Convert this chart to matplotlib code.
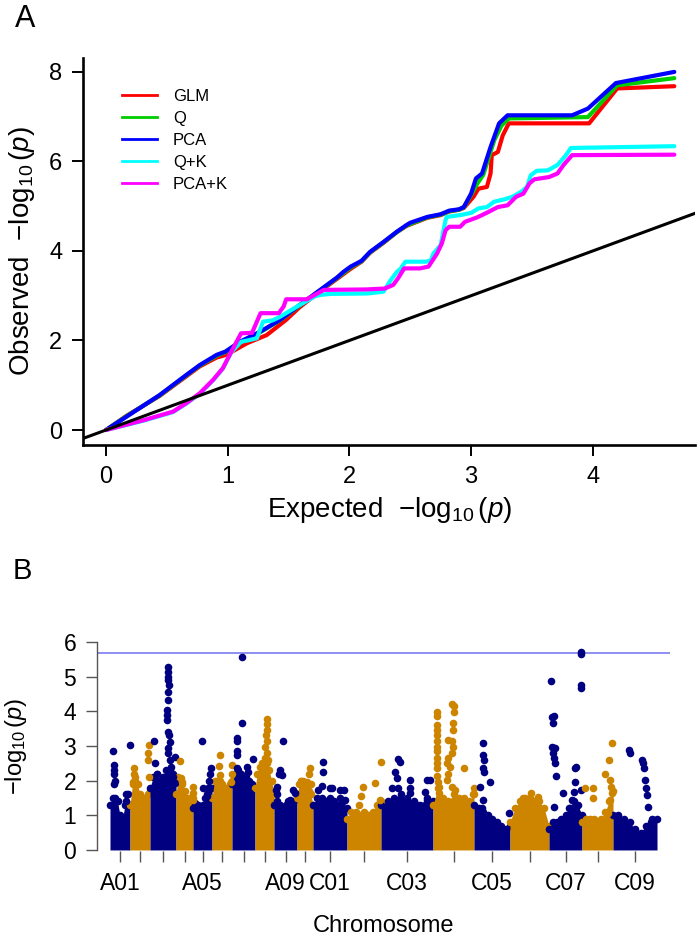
import matplotlib
matplotlib.use('Agg')
import matplotlib.pyplot as plt
from matplotlib.lines import Line2D
import numpy as np

plt.rcParams['font.family'] = ['Liberation Sans', 'DejaVu Sans']
plt.rcParams['mathtext.fontset'] = 'custom'
plt.rcParams['mathtext.rm'] = 'Liberation Sans'
plt.rcParams['mathtext.it'] = 'Liberation Sans:italic'
plt.rcParams['mathtext.default'] = 'regular'

# ---------------- Panel A: QQ plot data ----------------
qq_labels = ['GLM', 'Q', 'PCA', 'Q+K', 'PCA+K']
qq_colors = ['#FF0000', '#00CD00', '#0000FF', '#00FFFF', '#FF00FF']

glm_x = [0, 0.17, 0.44, 0.66, 0.77, 0.91, 0.99, 1.16, 1.32, 1.48, 1.59, 1.76, 1.90, 2.01, 2.10, 2.17,
         2.28, 2.39, 2.47, 2.64, 2.75, 2.82, 2.90, 2.94, 3.02, 3.06, 3.13, 3.16, 3.17, 3.22, 3.26, 3.31,
         3.97, 4.20, 4.67]
glm_y = [0, 0.32, 0.76, 1.20, 1.42, 1.62, 1.68, 1.94, 2.12, 2.46, 2.74, 3.10, 3.38, 3.60, 3.76, 3.96,
         4.18, 4.42, 4.56, 4.74, 4.80, 4.88, 4.92, 4.96, 5.21, 5.39, 5.43, 5.73, 6.14, 6.21, 6.58, 6.85,
         6.85, 7.63, 7.68]

q_x = [0, 0.17, 0.44, 0.66, 0.77, 0.91, 0.98, 1.10, 1.27, 1.43, 1.59, 1.76, 1.90, 2.01, 2.10, 2.17,
       2.28, 2.39, 2.47, 2.64, 2.75, 2.82, 2.90, 2.94, 3.00, 3.05, 3.10, 3.19, 3.25, 3.31, 3.96, 4.20, 4.67]
q_y = [0, 0.31, 0.77, 1.22, 1.44, 1.66, 1.74, 1.96, 2.19, 2.45, 2.78, 3.12, 3.40, 3.63, 3.77, 3.97,
       4.19, 4.42, 4.57, 4.75, 4.81, 4.89, 4.92, 4.97, 5.25, 5.50, 5.70, 6.47, 6.80, 6.96, 6.99, 7.70, 7.86]

pca_x = [0, 0.17, 0.44, 0.66, 0.77, 0.91, 0.98, 1.10, 1.27, 1.43, 1.59, 1.76, 1.90, 1.95, 2.01, 2.10,
         2.17, 2.28, 2.39, 2.47, 2.50, 2.64, 2.75, 2.82, 2.90, 2.94, 3.00, 3.04, 3.09, 3.16, 3.23, 3.30,
         3.83, 3.96, 4.19, 4.67]
pca_y = [0, 0.30, 0.78, 1.23, 1.45, 1.68, 1.75, 1.97, 2.20, 2.46, 2.79, 3.13, 3.41, 3.53, 3.65, 3.78,
         3.98, 4.20, 4.43, 4.58, 4.63, 4.76, 4.82, 4.90, 4.93, 4.98, 5.28, 5.62, 5.73, 6.32, 6.85, 7.03,
         7.03, 7.18, 7.75, 8.00]

qk_x = [0, 0.31, 0.55, 0.66, 0.77, 0.88, 0.96, 1.03, 1.11, 1.18, 1.24, 1.29, 1.37, 1.43, 1.59, 1.72,
        1.77, 1.84, 2.15, 2.28, 2.34, 2.39, 2.42, 2.46, 2.63, 2.67, 2.69, 2.75, 2.79, 2.80, 2.91, 3.00,
        3.06, 3.13, 3.19, 3.27, 3.34, 3.41, 3.46, 3.49, 3.54, 3.63, 3.71, 3.78, 3.82, 4.67]
qk_y = [0, 0.21, 0.40, 0.59, 0.81, 1.11, 1.37, 1.74, 1.97, 2.01, 2.05, 2.42, 2.45, 2.53, 2.79, 2.99,
        3.02, 3.04, 3.05, 3.09, 3.35, 3.53, 3.60, 3.76, 3.76, 3.79, 3.94, 4.13, 4.69, 4.76, 4.80, 4.85,
        4.95, 4.98, 5.10, 5.15, 5.21, 5.32, 5.43, 5.69, 5.79, 5.80, 5.92, 6.14, 6.30, 6.34]

pcak_x = [0, 0.31, 0.55, 0.66, 0.77, 0.88, 0.96, 1.03, 1.11, 1.20, 1.27, 1.42, 1.46, 1.48, 1.65, 1.79,
          2.14, 2.29, 2.36, 2.40, 2.45, 2.58, 2.65, 2.72, 2.76, 2.79, 2.82, 2.91, 2.95, 3.05, 3.12, 3.22,
          3.30, 3.37, 3.43, 3.48, 3.52, 3.64, 3.71, 3.76, 3.83, 4.67]
pcak_y = [0, 0.22, 0.41, 0.60, 0.82, 1.12, 1.38, 1.75, 2.16, 2.17, 2.61, 2.61, 2.76, 2.92, 2.92, 3.13,
          3.14, 3.16, 3.24, 3.39, 3.61, 3.61, 3.65, 3.94, 4.17, 4.46, 4.54, 4.54, 4.65, 4.75, 4.84, 4.98,
          5.02, 5.21, 5.28, 5.51, 5.60, 5.65, 5.73, 5.92, 6.14, 6.15]

qq_ticks_x = [0, 1, 2, 3, 4]
qq_ticks_y = [0, 2, 4, 6, 8]

# ---------------- Panel B: Manhattan plot data ----------------
chrom_names = ['A01', 'A02', 'A03', 'A04', 'A05', 'A06', 'A07', 'A08', 'A09', 'A10',
               'C01', 'C02', 'C03', 'C04', 'C05', 'C06', 'C07', 'C08', 'C09']
chrom_lengths = [20, 20, 26, 17, 19, 20, 23, 19, 23, 16, 34, 34, 52, 41, 36, 39, 33, 31, 44]
chrom_tick_labels = ['A01', '', '', '', 'A05', '', '', '', 'A09', '',
                     'C01', '', 'C03', '', 'C05', '', 'C07', '', 'C09']
threshold = 5.69
man_ticks_y = [0, 1, 2, 3, 4, 5, 6]

# upper edge of the dense cloud of markers (evenly spaced along each chromosome)
cloud_top = {
    'A01': [1.3, 1.5, 1.5, 1.4, 1.0, 0.9, 1.3, 1.6, 1.3],
    'A02': [1.3, 1.9, 2.0, 1.9, 1.6, 1.5, 1.5, 1.6, 1.7],
    'A03': [1.8, 2.1, 2.2, 2.0, 2.1, 2.3, 2.3, 2.2, 2.0],
    'A04': [1.6, 2.1, 2.0, 1.9, 1.7, 1.5, 1.5, 1.4, 1.5],
    'A05': [1.2, 1.35, 1.3, 1.2, 1.3, 1.5, 1.6, 1.8, 1.8],
    'A06': [1.5, 2.0, 2.0, 2.0, 1.9, 1.8, 1.8, 1.9, 2.0],
    'A07': [1.9, 2.2, 2.3, 2.2, 2.1, 2.1, 2.0, 1.9, 1.8],
    'A08': [1.8, 2.2, 2.4, 2.5, 2.5, 2.5, 2.3, 2.0, 1.6],
    'A09': [1.3, 1.4, 1.3, 1.2, 1.3, 1.4, 1.3, 1.4, 1.6],
    'A10': [1.5, 1.9, 2.0, 2.0, 1.9, 1.8, 1.7, 1.6, 1.3],
    'C01': [1.3, 1.5, 1.5, 1.4, 1.5, 1.4, 1.3, 1.4, 1.2],
    'C02': [0.9, 1.1, 1.1, 1.0, 1.1, 1.0, 1.1, 1.3, 1.4],
    'C03': [1.3, 1.4, 1.5, 1.6, 1.5, 1.4, 1.3, 1.5, 1.4],
    'C04': [1.3, 1.8, 1.5, 1.4, 1.6, 1.5, 1.5, 1.4, 1.6],
    'C05': [1.3, 1.2, 1.1, 1.0, 0.9, 0.8, 0.7, 0.6, 0.7],
    'C06': [0.8, 1.2, 1.4, 1.5, 1.5, 1.4, 1.4, 1.2, 0.7],
    'C07': [0.6, 0.8, 0.8, 0.9, 1.0, 1.2, 1.4, 1.3, 1.0],
    'C08': [0.8, 0.9, 0.9, 0.9, 0.8, 0.9, 1.1, 1.4, 1.7],
    'C09': [1.0, 0.9, 0.9, 0.8, 0.6, 0.5, 0.7, 0.9, 0.9],
}

# individual markers standing above the cloud: (position within chromosome, -log10 p)
top_snps = {
    'A01': [(3, 2.84), (4, 2.45), (4, 2.3), (4, 2.2), (4.5, 2.0), (4, 1.9), (16, 1.6), (15.5, 1.4), (19.5, 3.03)],
    'A02': [(3.5, 2.2), (4, 2.36), (4.5, 2.1), (2.5, 1.95), (18, 2.79), (19, 3.03), (18, 2.6), (19, 2.1), (10, 1.55)],
    'A03': [(3.5, 3.13), (4.5, 2.5), (6.5, 2.2), (18.3, 5.27), (18.3, 5.14), (17.7, 4.98), (18.3, 4.9),
            (19.3, 4.76), (18.3, 4.57), (18.3, 4.33), (16.7, 4.04), (16.7, 3.89), (17.3, 3.75), (18.3, 3.41),
            (19.3, 3.32), (20, 3.12), (18.3, 2.93), (18.3, 2.79), (20, 2.6), (21, 2.4), (21.7, 2.2),
            (21.7, 1.97), (25, 2.69), (23.3, 2.1), (25, 1.94)],
    'A04': [(4, 2.57), (5, 2.07), (5.5, 1.97), (16.5, 1.83), (16.5, 1.63), (16.5, 1.44)],
    'A05': [(8.7, 3.13), (9.7, 1.78), (17.8, 2.37), (17, 2.2), (16.3, 2.0), (15.3, 1.8), (14, 1.55)],
    'A06': [(8, 2.74), (7.3, 2.42), (8, 2.16), (6.3, 1.97), (19.5, 2.45), (19.5, 2.2), (19, 1.95)],
    'A07': [(10.3, 5.56), (10.3, 3.65), (4.7, 3.22), (5.3, 3.13), (5.3, 2.84), (5.3, 2.74), (4.5, 2.35),
            (8, 2.2), (14.7, 2.4), (16.3, 2.26), (21.3, 2.62), (13, 1.97), (18, 1.63), (7, 2.1)],
    'A08': [(11.7, 3.77), (11.7, 3.63), (11.7, 3.46), (11, 3.32), (11.7, 3.13), (10, 2.98), (11.7, 2.79),
            (10, 2.64), (8.3, 2.5), (6.7, 2.4), (5, 2.2), (12.5, 2.6)],
    'A09': [(9.3, 3.13), (6, 2.3), (4.7, 2.2), (7.7, 2.16), (3.3, 1.83), (1.7, 1.73), (2.5, 1.6), (16, 1.44),
            (19.3, 1.73), (21, 1.65)],
    'A10': [(13, 2.36), (11.7, 2.2), (4, 2.0), (10, 1.95), (14, 1.9)],
    'C01': [(10.3, 2.53), (10.3, 2.26), (5, 1.73), (9, 1.85), (18.7, 1.78), (27, 1.73), (27, 1.5),
            (30.7, 1.73), (31.5, 1.44), (17, 1.78)],
    'C02': [(16.3, 1.83), (14, 1.55), (28, 1.92), (33.5, 2.55), (33, 1.44), (22, 1.0), (12, 1.3)],
    'C03': [(17.3, 2.62), (18.7, 2.55), (14, 2.26), (15.7, 2.07), (10.7, 1.78), (17.3, 1.78), (29, 2.02),
            (29, 1.78), (29, 1.63), (39, 1.25), (45.7, 2.02), (49, 2.02), (44, 1.68), (45.7, 1.44), (36, 1.3)],
    'C04': [(3.7, 3.99), (4.0, 3.85), (3.7, 3.6), (3.7, 3.45), (4.0, 3.32), (3.7, 3.13), (4.0, 2.98),
            (3.7, 2.84), (3.7, 2.65), (3.7, 2.5), (4.0, 2.36), (3.7, 2.12), (5.3, 1.97), (6.0, 1.83),
            (6.0, 1.63), (7.0, 1.44),
            (18.7, 4.21), (21, 4.16), (21, 3.99), (20.3, 3.65), (19.7, 3.45), (15.3, 3.17), (18.7, 3.13),
            (20.3, 2.98), (18.7, 2.8), (15.3, 2.64), (13.7, 2.5), (17, 2.4), (15.3, 2.2), (13.7, 2.02),
            (18.7, 1.83), (22, 1.73), (23, 1.35), (31, 2.36), (40.5, 1.78), (40, 1.6)],
    'C05': [(9.3, 3.08), (9.3, 2.74), (10, 2.6), (9.3, 2.36), (10, 2.26), (6, 1.83), (16, 1.97), (9.3, 1.44),
            (7.7, 1.2), (35, 1.06), (15, 0.9), (20, 0.8)],
    'C06': [(12.7, 1.49), (21, 1.65), (28.3, 1.54), (18, 1.35), (25, 1.3), (10, 1.2)],
    'C07': [(1.5, 4.86), (5, 3.87), (3, 3.83), (4, 3.65), (2.5, 2.98), (4.5, 2.95), (5.5, 2.93), (4, 2.79),
            (5, 2.64), (6, 2.5), (7, 2.12), (5, 1.25), (14.3, 1.63), (26, 2.36), (26.5, 2.4), (26, 1.97),
            (24.5, 1.68), (32, 5.72), (32, 5.66), (32, 4.76), (32, 4.66), (32, 1.73), (20, 1.2), (23, 1.45)],
    'C08': [(29.7, 3.08), (27.3, 2.6), (23, 2.2), (28, 2.02), (28.7, 1.83), (29.7, 1.63), (28, 1.44),
            (3, 1.8), (11.3, 1.8), (11.3, 1.49), (26, 1.06)],
    'C09': [(16.3, 2.88), (16.7, 2.8), (28.7, 2.6), (30, 2.5), (31, 2.36), (32, 2.02), (32.7, 1.78),
            (34, 1.59), (35.3, 1.25), (40.3, 0.87), (38, 0.8), (5, 1.0)],
}
man_colors = ['#000080', '#CD8500']

# ---------------- Figure ----------------
W, H = 700, 939
fig = plt.figure(figsize=(W / 100, H / 100), dpi=100)

# ----- Panel A -----
axA = fig.add_axes([83 / W, (H - 445) / H, 612 / W, 387 / H])
series = [(glm_x, glm_y), (q_x, q_y), (pca_x, pca_y), (qk_x, qk_y), (pcak_x, pcak_y)]
for (xs, ys), c, lab in zip(series, qq_colors, qq_labels):
    axA.plot(xs, ys, color=c, lw=3.0, solid_joinstyle='round', solid_capstyle='round', label=lab)
axA.axline((0, 0), (1, 1), color='black', lw=2.2)
axA.set_xlim(-0.189, 4.84)
axA.set_ylim(-0.335, 8.31)
axA.set_xticks(qq_ticks_x)
axA.set_yticks(qq_ticks_y)
for s in ['top', 'right']:
    axA.spines[s].set_visible(False)
for s in ['left', 'bottom']:
    axA.spines[s].set_linewidth(1.9)
    axA.spines[s].set_color('black')
axA.tick_params(direction='out', length=8, width=1.4, labelsize=17, pad=7, color='black')

handles = [Line2D([0], [0], color=c, lw=2.0) for c in qq_colors]
axA.legend(handles, qq_labels, loc='upper left', bbox_to_anchor=(0.0637, 0.921),
           frameon=False, fontsize=12, handlelength=2.1, handletextpad=0.95,
           labelspacing=0.42, borderpad=0, borderaxespad=0)

fig.text(390 / W, 1 - 510 / H, r'Expected  $-\log_{10}(\mathit{p})$', ha='center', va='center', fontsize=20)
fig.text(22 / W, 1 - 251 / H, r'Observed  $-\log_{10}(\mathit{p})$', ha='center', va='center',
         rotation=90, fontsize=20)
fig.text(25 / W, 1 - 19 / H, 'A', ha='center', va='center', fontsize=22)

# ----- Panel B -----
axB = fig.add_axes([97 / W, 88 / H, 573 / W, 216 / H])
starts = np.concatenate([[0], np.cumsum(chrom_lengths)[:-1]])
mids = starts + np.array(chrom_lengths) / 2.0
for i, name in enumerate(chrom_names):
    col = man_colors[i % 2]
    env = np.array(cloud_top[name])
    xs = starts[i] + np.linspace(0, chrom_lengths[i], len(env))
    axB.fill_between(xs, 0, env, color=col, lw=0)
    axB.scatter(xs, env, s=30, color=col, lw=0)
    pos = [starts[i] + p for p, _ in top_snps[name]]
    val = [v for _, v in top_snps[name]]
    axB.scatter(pos, val, s=30, color=col, lw=0, zorder=3)
axB.axhline(threshold, color='#7C7CF2', lw=1.2, zorder=2)
axB.set_xlim(-13, 560)
axB.set_ylim(-0.03, 6.2)
axB.set_xticks(mids)
axB.set_xticklabels(chrom_tick_labels)
axB.set_yticks(man_ticks_y)
for s in ['top', 'right', 'bottom']:
    axB.spines[s].set_visible(False)
axB.spines['left'].set_bounds(0, 6)
axB.spines['left'].set_color('#555555')
axB.spines['left'].set_linewidth(1.0)
axB.tick_params(direction='out', length=8, width=1.0, color='#555555', labelsize=16.5, pad=7)
fig.text(384 / W, 1 - 926 / H, 'Chromosome', ha='center', va='center', fontsize=17)
fig.text(16 / W, 1 - 746 / H, r'$-\log_{10}(\mathit{p})$', ha='center', va='center',
         rotation=90, fontsize=17)
fig.text(22 / W, 1 - 571 / H, 'B', ha='center', va='center', fontsize=21)

fig.savefig('out.png', dpi=100)
